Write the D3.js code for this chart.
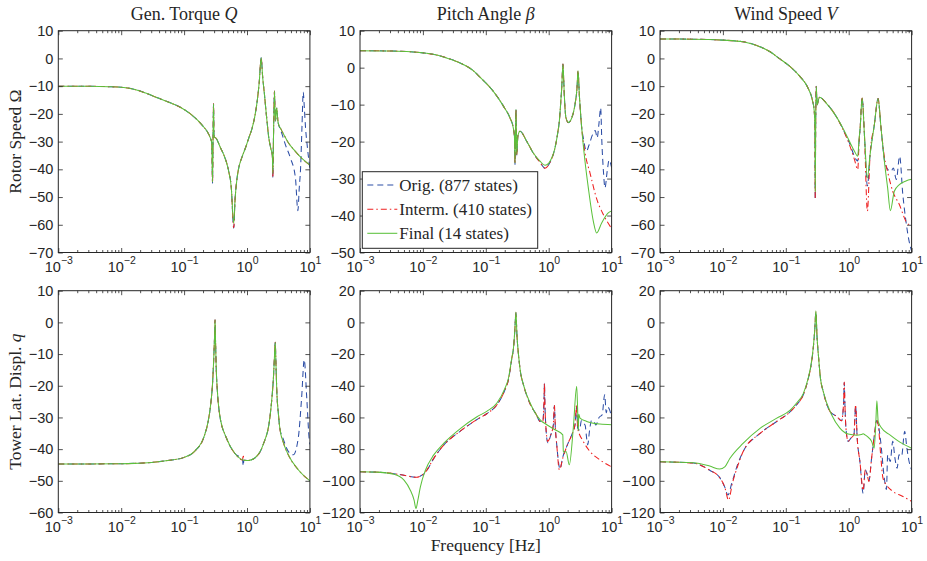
<!DOCTYPE html>
<html><head><meta charset="utf-8">
<script src="https://cdn.jsdelivr.net/npm/d3@7"></script>
<style>body{margin:0;background:#fff}svg{display:block}</style>
</head><body>
<svg id="c" width="927" height="561"></svg>
<script>
// ---------- DATA: each point is [log10(frequency in Hz), magnitude in dB] ----------
const p1Orig = [[-3,-10],[-2.5,-10.05],[-2.2,-10.2],[-2,-10.4],[-1.8,-11.1],[-1.6,-12.6],[-1.4,-14.4],[-1.2,-16.2],[-1.06,-17.6],[-0.9,-20.0],[-0.794,-22.1],[-0.7,-24.4],[-0.635,-26.3],[-0.59,-28.3],[-0.56,-30.5],[-0.548,-45],[-0.54,-29.5],[-0.532,-16.4],[-0.524,-28.2],[-0.487,-28.9],[-0.43,-31.8],[-0.37,-34.7],[-0.291,-40.7],[-0.25,-46.5],[-0.211,-61.2],[-0.19,-51],[-0.16,-43.5],[-0.131,-39.5],[-0.08,-35.6],[-0.025,-32.3],[0.03,-28.6],[0.082,-25.1],[0.13,-20.2],[0.162,-15.4],[0.195,-8.5],[0.225,0.2],[0.25,-7],[0.278,-13.1],[0.31,-20.8],[0.347,-28.7],[0.38,-32.6],[0.403,-35],[0.411,-43],[0.42,-30],[0.437,-11.8],[0.445,-19],[0.453,-22.6],[0.464,-19.5],[0.474,-17.9],[0.485,-21],[0.496,-23.3],[0.53,-25.5],[0.56,-27.5],[0.61,-31.1],[0.69,-35.9],[0.77,-43.1],[0.809,-54.9],[0.83,-47],[0.852,-39.5],[0.875,-24],[0.894,-12.1],[0.912,-18],[0.931,-25.1],[0.96,-32],[1.0,-40]];
const p1Interm = [[-3,-10],[-2.5,-10.05],[-2.2,-10.2],[-2,-10.4],[-1.8,-11.1],[-1.6,-12.6],[-1.4,-14.4],[-1.2,-16.2],[-1.06,-17.6],[-0.9,-20.0],[-0.794,-22.1],[-0.7,-24.4],[-0.635,-26.3],[-0.59,-28.3],[-0.56,-30.5],[-0.548,-44.8],[-0.54,-29.5],[-0.532,-16.4],[-0.524,-28.2],[-0.487,-28.9],[-0.43,-31.8],[-0.37,-34.7],[-0.291,-40.7],[-0.25,-46.5],[-0.211,-61],[-0.19,-51],[-0.16,-43.5],[-0.131,-39.5],[-0.08,-35.6],[-0.025,-32.3],[0.03,-28.6],[0.082,-25.1],[0.13,-20.2],[0.162,-15.4],[0.195,-8.5],[0.225,0.2],[0.25,-7],[0.278,-13.1],[0.31,-20.8],[0.347,-28.7],[0.38,-32.6],[0.403,-35],[0.411,-43],[0.42,-30],[0.437,-11.8],[0.445,-19],[0.453,-22.6],[0.464,-19.5],[0.474,-17.9],[0.485,-21],[0.496,-23.3],[0.54,-25.5],[0.586,-27.5],[0.66,-30.5],[0.745,-32.9],[0.86,-35.8],[1.0,-38.5]];
const p1Final = [[-3,-10],[-2.5,-10.05],[-2.2,-10.2],[-2,-10.4],[-1.8,-11.1],[-1.6,-12.6],[-1.4,-14.4],[-1.2,-16.2],[-1.06,-17.6],[-0.9,-20.0],[-0.794,-22.1],[-0.7,-24.4],[-0.635,-26.3],[-0.59,-28.3],[-0.56,-30.5],[-0.548,-44.6],[-0.54,-29.5],[-0.532,-16.4],[-0.524,-28.2],[-0.487,-28.9],[-0.43,-31.8],[-0.37,-34.7],[-0.291,-40.7],[-0.25,-46.5],[-0.211,-59.5],[-0.19,-51],[-0.16,-43.5],[-0.131,-39.5],[-0.08,-35.6],[-0.025,-32.3],[0.03,-28.6],[0.082,-25.1],[0.13,-20.2],[0.162,-15.4],[0.195,-8.5],[0.225,0.2],[0.25,-7],[0.278,-13.1],[0.31,-20.8],[0.347,-28.7],[0.38,-32.6],[0.403,-35],[0.411,-41.5],[0.42,-30],[0.437,-11.8],[0.445,-19],[0.453,-22.6],[0.464,-19.5],[0.474,-17.9],[0.485,-21],[0.496,-23.3],[0.54,-25.5],[0.586,-27.5],[0.66,-30.5],[0.745,-32.9],[0.86,-35.8],[1.0,-38.5]];

const p2Orig = [[-3,4.6],[-2.5,4.5],[-2.2,4.3],[-2,4.0],[-1.8,3.5],[-1.6,2.5],[-1.4,1.2],[-1.2,-0.8],[-1.09,-2.6],[-0.88,-6.4],[-0.72,-10.4],[-0.615,-13.6],[-0.563,-16.3],[-0.545,-18.5],[-0.536,-26.2],[-0.528,-18],[-0.52,-11.3],[-0.515,-17],[-0.509,-23.8],[-0.49,-18.5],[-0.456,-17.2],[-0.35,-19.9],[-0.245,-23.1],[-0.138,-25.6],[-0.059,-27.2],[0.021,-25.6],[0.1,-21.7],[0.145,-17.5],[0.169,-14.5],[0.195,-8.5],[0.207,-5.5],[0.227,1.0],[0.238,-3],[0.248,-7.3],[0.275,-13.6],[0.312,-14.9],[0.366,-13.6],[0.418,-10],[0.45,-5.5],[0.466,-0.8],[0.487,-7.3],[0.525,-16.3],[0.55,-19],[0.6,-22.6],[0.64,-21],[0.7,-18],[0.74,-17],[0.77,-19],[0.8,-15],[0.826,-10.9],[0.845,-20],[0.87,-28],[0.895,-32.5],[0.93,-28],[0.96,-25],[1.0,-27]];
const p2Interm = [[-3,4.6],[-2.5,4.5],[-2.2,4.3],[-2,4.0],[-1.8,3.5],[-1.6,2.5],[-1.4,1.2],[-1.2,-0.8],[-1.09,-2.6],[-0.88,-6.4],[-0.72,-10.4],[-0.615,-13.6],[-0.563,-16.3],[-0.545,-18.5],[-0.536,-26],[-0.528,-18],[-0.52,-11.3],[-0.515,-17],[-0.509,-23.6],[-0.49,-18.5],[-0.456,-17.2],[-0.35,-19.9],[-0.245,-23.1],[-0.138,-25.6],[-0.059,-27.2],[0.021,-25.6],[0.1,-21.7],[0.145,-17.5],[0.169,-14.5],[0.195,-8.5],[0.207,-5.5],[0.227,1.0],[0.238,-3],[0.248,-7.3],[0.275,-13.6],[0.312,-14.9],[0.366,-13.6],[0.418,-10],[0.45,-5.5],[0.466,-0.8],[0.487,-7.3],[0.525,-16.3],[0.577,-23],[0.657,-28.5],[0.763,-35.5],[0.868,-39.7],[1.0,-43.5]];
const p2Final = [[-3,4.6],[-2.5,4.5],[-2.2,4.3],[-2,4.0],[-1.8,3.5],[-1.6,2.5],[-1.4,1.2],[-1.2,-0.8],[-1.09,-2.6],[-0.88,-6.4],[-0.72,-10.4],[-0.615,-13.6],[-0.563,-16.3],[-0.545,-18.5],[-0.536,-25.8],[-0.528,-18],[-0.52,-11.3],[-0.515,-17],[-0.509,-23.5],[-0.49,-18.5],[-0.456,-17.2],[-0.35,-19.9],[-0.245,-23.1],[-0.138,-25.3],[-0.059,-26.4],[0.021,-25.3],[0.1,-21.7],[0.145,-17.5],[0.169,-14.5],[0.195,-8.5],[0.207,-5.5],[0.227,1.0],[0.238,-3],[0.248,-7.3],[0.275,-13.6],[0.312,-14.8],[0.366,-13.6],[0.418,-10],[0.45,-5.5],[0.466,-0.8],[0.487,-7.3],[0.525,-16.3],[0.577,-25.3],[0.63,-32.5],[0.709,-41.5],[0.763,-44.7],[0.842,-42.0],[0.947,-39.3],[1.0,-38.8]];

const p3Orig = [[-3,7.0],[-2.5,6.95],[-2,6.6],[-1.68,6.0],[-1.41,4.2],[-1.25,2.4],[-1.1,-0.1],[-0.939,-2.8],[-0.78,-6.4],[-0.649,-10.6],[-0.579,-14.9],[-0.548,-19.0],[-0.538,-24],[-0.532,-51],[-0.525,-24],[-0.516,-10.0],[-0.508,-14],[-0.5,-16.7],[-0.482,-15],[-0.464,-14.0],[-0.358,-16.1],[-0.199,-20.9],[-0.094,-25.3],[-0.04,-28.0],[0.012,-30.5],[0.118,-36.5],[0.144,-37],[0.165,-30],[0.182,-25.1],[0.214,-14.3],[0.25,-27.5],[0.297,-46],[0.34,-34.7],[0.408,-23.9],[0.467,-14.5],[0.514,-25.1],[0.567,-36.5],[0.62,-40],[0.673,-40.7],[0.71,-39.5],[0.757,-43.7],[0.81,-35.3],[0.86,-49],[0.91,-58.7],[0.96,-65.9],[1.0,-69.5]];
const p3Interm = [[-3,7.0],[-2.5,6.95],[-2,6.6],[-1.68,6.0],[-1.41,4.2],[-1.25,2.4],[-1.1,-0.1],[-0.939,-2.8],[-0.78,-6.4],[-0.649,-10.6],[-0.579,-14.9],[-0.548,-19.0],[-0.538,-24],[-0.532,-50.5],[-0.525,-24],[-0.516,-10.0],[-0.508,-14],[-0.5,-16.7],[-0.482,-15],[-0.464,-14.0],[-0.358,-16.1],[-0.199,-20.9],[-0.094,-25.5],[0.012,-31.1],[0.092,-36.5],[0.144,-40.1],[0.165,-30],[0.182,-25],[0.214,-14.3],[0.25,-27.5],[0.297,-55.1],[0.34,-34.7],[0.408,-23.9],[0.467,-14.5],[0.514,-25.1],[0.567,-35.5],[0.62,-41],[0.7,-47.9],[0.805,-52.7],[0.91,-58.7],[1.0,-60.5]];
const p3Final = [[-3,7.0],[-2.5,6.95],[-2,6.6],[-1.68,6.0],[-1.41,4.2],[-1.25,2.4],[-1.1,-0.1],[-0.939,-2.8],[-0.78,-6.4],[-0.649,-10.6],[-0.579,-14.9],[-0.548,-19.0],[-0.538,-24],[-0.532,-48],[-0.525,-24],[-0.516,-10.0],[-0.508,-14],[-0.5,-16.7],[-0.482,-15],[-0.464,-14.0],[-0.358,-16.1],[-0.199,-20.9],[-0.094,-25.1],[0.012,-29.9],[0.092,-33.5],[0.144,-35.3],[0.165,-29],[0.182,-25.1],[0.214,-14.3],[0.25,-27.5],[0.297,-43.1],[0.34,-34.7],[0.408,-23.9],[0.467,-14.5],[0.514,-25.1],[0.567,-37.1],[0.619,-46.7],[0.662,-54.9],[0.725,-47.9],[0.805,-45.5],[0.91,-44.2],[1.0,-43.6]];

const p4Orig = [[-3,-44.7],[-2,-44.6],[-1.79,-44.5],[-1.52,-44.2],[-1.26,-43.6],[-1.0,-42.6],[-0.833,-40.7],[-0.673,-35.5],[-0.62,-31.5],[-0.578,-26.0],[-0.55,-20],[-0.53,-12],[-0.515,-4],[-0.508,0.8],[-0.5,-6],[-0.49,-14],[-0.47,-22],[-0.434,-29.2],[-0.327,-36.5],[-0.195,-41.3],[-0.07,-43.4],[-0.06,-45.3],[-0.05,-43.5],[0.018,-43.6],[0.124,-42.8],[0.257,-38.6],[0.363,-30.2],[0.4,-23],[0.417,-18.6],[0.435,-11.5],[0.449,-6.3],[0.46,-13],[0.474,-21.8],[0.5,-29],[0.522,-33.4],[0.58,-37],[0.656,-40.7],[0.735,-41.8],[0.815,-36.5],[0.868,-23.9],[0.91,-11.8],[0.95,-23.9],[0.99,-37.1],[1.0,-38.5]];
const p4Interm = [[-3,-44.7],[-2,-44.6],[-1.79,-44.5],[-1.52,-44.2],[-1.26,-43.6],[-1.0,-42.6],[-0.833,-40.7],[-0.673,-35.5],[-0.62,-31.5],[-0.578,-26.0],[-0.55,-20],[-0.53,-12],[-0.515,-4],[-0.508,0.8],[-0.5,-6],[-0.49,-14],[-0.47,-22],[-0.434,-29.2],[-0.327,-36.5],[-0.195,-41.3],[-0.07,-43.4],[-0.06,-41.8],[-0.05,-43.5],[0.018,-43.6],[0.124,-42.8],[0.257,-38.6],[0.363,-30.2],[0.4,-23],[0.417,-18.6],[0.435,-11.5],[0.449,-6.3],[0.46,-13],[0.474,-21.8],[0.5,-29],[0.522,-33.4],[0.58,-38],[0.656,-41.8],[0.815,-46.5],[1.0,-50.0]];
const p4Final = [[-3,-44.7],[-2,-44.6],[-1.79,-44.5],[-1.52,-44.2],[-1.26,-43.6],[-1.0,-42.6],[-0.833,-40.7],[-0.673,-35.5],[-0.62,-31.5],[-0.578,-26.0],[-0.55,-20],[-0.53,-12],[-0.515,-4],[-0.508,0.8],[-0.5,-6],[-0.49,-14],[-0.47,-22],[-0.434,-29.2],[-0.327,-36.5],[-0.195,-41.3],[-0.061,-43.4],[0.018,-43.6],[0.124,-42.8],[0.257,-38.6],[0.363,-30.2],[0.4,-23],[0.417,-18.6],[0.435,-11.5],[0.449,-6.3],[0.46,-13],[0.474,-21.8],[0.5,-29],[0.522,-33.4],[0.58,-38],[0.656,-41.8],[0.815,-46.5],[1.0,-50.0]];

const p5Orig = [[-3,-94.3],[-2.7,-94.6],[-2.46,-95.5],[-2.3,-96.5],[-2.1,-97.8],[-2.04,-97],[-1.96,-94.8],[-1.83,-86],[-1.67,-77.5],[-1.4,-68.5],[-1.14,-61.3],[-0.98,-57.5],[-0.823,-52],[-0.7,-43],[-0.639,-36],[-0.585,-22.5],[-0.56,-16.5],[-0.54,-6],[-0.521,6],[-0.505,-8],[-0.48,-20.4],[-0.45,-31],[-0.401,-39.4],[-0.295,-51.5],[-0.2,-58],[-0.136,-62.5],[-0.094,-62.4],[-0.075,-50],[-0.068,-38.5],[-0.06,-52],[-0.047,-64.6],[-0.015,-76],[0.033,-71.0],[0.074,-64.6],[0.09,-52.5],[0.106,-66.7],[0.128,-77.3],[0.18,-92.5],[0.224,-85],[0.297,-77.3],[0.366,-71.0],[0.418,-64.6],[0.445,-53.5],[0.46,-66.7],[0.49,-68],[0.52,-62],[0.55,-63.5],[0.58,-65],[0.6,-72],[0.62,-77.3],[0.65,-68],[0.68,-62],[0.72,-62.5],[0.75,-64.8],[0.8,-60],[0.85,-58.3],[0.89,-45.7],[0.915,-57],[0.94,-53.5],[0.97,-55.4],[1.0,-60]];
const p5Interm = [[-3,-94.3],[-2.7,-94.6],[-2.46,-95.5],[-2.3,-96.5],[-2.1,-97.8],[-2.04,-97],[-1.96,-94.5],[-1.83,-86],[-1.67,-77.5],[-1.4,-68.5],[-1.14,-61.3],[-0.98,-57.5],[-0.823,-52],[-0.7,-43],[-0.639,-36],[-0.585,-22.5],[-0.56,-16.5],[-0.54,-6],[-0.521,6],[-0.505,-8],[-0.48,-20.4],[-0.45,-31],[-0.401,-39.4],[-0.295,-51.5],[-0.2,-58],[-0.136,-62.5],[-0.094,-62.4],[-0.075,-50],[-0.068,-38.3],[-0.06,-52],[-0.047,-64.6],[-0.015,-75.1],[0.033,-71.0],[0.074,-64.6],[0.09,-52.0],[0.106,-66.7],[0.128,-77.3],[0.17,-93.1],[0.224,-85.7],[0.297,-77.3],[0.366,-71.0],[0.418,-64.6],[0.445,-52],[0.46,-66.7],[0.55,-75.1],[0.656,-81.5],[0.815,-86.8],[1.0,-91.2]];
const p5Final = [[-3,-94.3],[-2.73,-94.5],[-2.46,-95.8],[-2.3,-99.6],[-2.2,-105.9],[-2.14,-112.2],[-2.11,-117.5],[-2.08,-112.2],[-2.04,-103.8],[-1.96,-93.3],[-1.83,-83.8],[-1.67,-76.4],[-1.4,-66.9],[-1.14,-59.6],[-0.98,-56],[-0.823,-50.9],[-0.7,-42],[-0.639,-35.1],[-0.585,-22],[-0.56,-16.2],[-0.54,-6],[-0.521,6.5],[-0.505,-8],[-0.48,-20.4],[-0.45,-31],[-0.401,-39.4],[-0.295,-50.9],[-0.136,-61.5],[-0.03,-64.6],[0.101,-67.8],[0.224,-71.0],[0.233,-81.5],[0.25,-82],[0.276,-81.5],[0.328,-89.9],[0.391,-66.7],[0.445,-40.4],[0.46,-55],[0.471,-68.3],[0.478,-58],[0.498,-60.4],[0.604,-62.5],[0.815,-64.2],[1.0,-64.6]];

const p6Orig = [[-3,-88],[-2.47,-88.8],[-2.21,-93.3],[-2.05,-98],[-1.97,-104],[-1.92,-109],[-1.86,-101.7],[-1.77,-90.1],[-1.68,-81.7],[-1.41,-70.1],[-1.15,-62.7],[-0.93,-56.4],[-0.828,-52],[-0.72,-45.5],[-0.643,-35.5],[-0.6,-27.5],[-0.564,-16.5],[-0.54,-5],[-0.521,6.5],[-0.505,-8],[-0.478,-22.5],[-0.45,-35],[-0.405,-43.6],[-0.298,-56.2],[-0.192,-59.3],[-0.113,-62.1],[-0.08,-50],[-0.071,-38],[-0.06,-52],[-0.044,-66.7],[-0.008,-75.1],[0.035,-73],[0.083,-71],[0.11,-53],[0.135,-73],[0.178,-87.8],[0.23,-108],[0.263,-93.1],[0.294,-96],[0.321,-100],[0.364,-85.7],[0.416,-68.8],[0.443,-62],[0.47,-64.6],[0.508,-75],[0.56,-96.2],[0.6,-105.5],[0.62,-83.6],[0.66,-87.8],[0.7,-75.1],[0.735,-85.7],[0.77,-92],[0.8,-83.6],[0.84,-84.6],[0.89,-68.8],[0.925,-79.4],[0.96,-87.8],[1.0,-93.1]];
const p6Interm = [[-3,-88],[-2.47,-88.8],[-2.21,-93.3],[-2.05,-98],[-1.97,-104],[-1.91,-112.2],[-1.85,-101.7],[-1.76,-90.1],[-1.68,-81.7],[-1.41,-70.1],[-1.15,-62.7],[-0.93,-56.4],[-0.828,-52],[-0.72,-45.5],[-0.643,-35.5],[-0.6,-27.5],[-0.564,-16.5],[-0.54,-5],[-0.521,6.5],[-0.505,-8],[-0.478,-22.5],[-0.45,-35],[-0.405,-43.6],[-0.298,-56.2],[-0.192,-59.3],[-0.113,-62.1],[-0.08,-50],[-0.071,-37.7],[-0.06,-52],[-0.044,-66.7],[-0.008,-75.1],[0.035,-73],[0.083,-71],[0.11,-52.0],[0.135,-73],[0.178,-87.8],[0.23,-106],[0.263,-93.1],[0.294,-96],[0.321,-100.4],[0.364,-85.7],[0.416,-68.8],[0.443,-61.5],[0.47,-64.6],[0.508,-83.6],[0.545,-98.3],[0.598,-102.5],[0.703,-106.7],[0.862,-109.9],[1.0,-113.0]];
const p6Final = [[-3,-88.0],[-2.47,-88.6],[-2.21,-90.7],[-2.05,-92.6],[-1.97,-91.2],[-1.89,-85.9],[-1.68,-76.4],[-1.41,-66.9],[-1.15,-60.6],[-0.93,-55.4],[-0.828,-50.9],[-0.72,-44.8],[-0.643,-35.1],[-0.6,-27],[-0.564,-16.2],[-0.54,-5],[-0.521,7.4],[-0.505,-8],[-0.478,-22.5],[-0.45,-35],[-0.405,-43.6],[-0.272,-58.3],[-0.14,-66.7],[-0.008,-70.5],[0.125,-71.2],[0.2,-70.8],[0.23,-70.3],[0.26,-71],[0.294,-72.0],[0.364,-75.1],[0.405,-79.4],[0.432,-62.5],[0.448,-49.5],[0.469,-62.5],[0.523,-66.7],[0.655,-71.0],[0.814,-75.6],[1.0,-79.4]];

// ---------- LABELS & TICKS ----------
const inputNames = ["Gen. Torque ", "Pitch Angle ", "Wind Speed "];
const inputSymbols = ["Q", "β", "V"];
const outputNames = ["Rotor Speed Ω", "Tower Lat. Displ. "];
const outputSymbols = ["", "q"];
const seriesNames = ["Orig. (877 states)", "Interm. (410 states)", "Final (14 states)"];
const xTickValues = [1e-3, 1e-2, 1e-1, 1e0, 1e1];
const xLabel = "Frequency [Hz]";
const yDomains = [[-70,10],[-50,10],[-70,10],[-60,10],[-120,20],[-120,20]];
const yTickSteps = [10,10,10,10,20,20];
const panelSeries = [
  [p1Orig,p1Interm,p1Final],[p2Orig,p2Interm,p2Final],[p3Orig,p3Interm,p3Final],
  [p4Orig,p4Interm,p4Final],[p5Orig,p5Interm,p5Final],[p6Orig,p6Interm,p6Final]
];

// ---------- STYLE / LAYOUT ----------
const colX = [58.3, 360, 660], colW = 251.6;
const rowY = [30.7, 290.7], rowH = 221.8;
const colors = ["#2d4ea6", "#ee2020", "#5cc13c"];
const dashes = ["6,4", "6,3,1.5,3", null];
const ink = "#262626";
const sansFont = "'Liberation Sans', Arial, Helvetica, sans-serif";
const serifFont = "'Liberation Serif', 'Times New Roman', serif";

const svg = d3.select("#c");
svg.append("rect").attr("width",927).attr("height",561).attr("fill","#fff");

const supMinus = n => (n < 0 ? "\u2212" + Math.abs(n) : String(n));

panelSeries.forEach((series, i) => {
  const r = Math.floor(i/3), c = i % 3;
  const x0 = colX[c], y0 = rowY[r];
  const x = d3.scaleLog().domain([1e-3, 1e1]).range([x0, x0 + colW]);
  const y = d3.scaleLinear().domain(yDomains[i]).range([y0 + rowH, y0]);
  const yTicks = d3.range(yDomains[i][0], yDomains[i][1] + 0.001, yTickSteps[i]);
  const g = svg.append("g");

  const clipId = "clip" + i;
  svg.append("clipPath").attr("id", clipId).append("rect")
    .attr("x", x0).attr("y", y0).attr("width", colW).attr("height", rowH);

  // lines
  const line = d3.line().x(d => x(Math.pow(10, d[0]))).y(d => y(d[1])).curve(d3.curveMonotoneX);
  const lg = g.append("g").attr("clip-path", `url(#${clipId})`);
  series.forEach((s, k) => {
    lg.append("path").attr("d", line(s)).attr("fill","none")
      .attr("stroke", colors[k]).attr("stroke-width", 1.05)
      .attr("stroke-dasharray", dashes[k]);
  });

  // minor ticks
  const minor = x.ticks().filter(v => !xTickValues.some(t => Math.abs(t - v) / t < 1e-9));
  const styleAxis = sel => { sel.select(".domain").remove(); sel.selectAll("line").attr("stroke", ink).attr("stroke-width", 0.8); };
  g.append("g").attr("transform", `translate(0,${y0 + rowH})`)
    .call(d3.axisBottom(x).tickValues(minor).tickSizeInner(-2.5).tickSizeOuter(0).tickFormat(""))
    .call(styleAxis);
  g.append("g").attr("transform", `translate(0,${y0})`)
    .call(d3.axisTop(x).tickValues(minor).tickSizeInner(-2.5).tickSizeOuter(0).tickFormat(""))
    .call(styleAxis);

  // major x ticks with labels
  const xb = g.append("g").attr("transform", `translate(0,${y0 + rowH})`)
    .call(d3.axisBottom(x).tickValues(xTickValues).tickSizeInner(-4.5).tickSizeOuter(0).tickPadding(9.5))
    .call(styleAxis);
  xb.selectAll(".tick text").each(function(d) {
    const t = d3.select(this).text(null).attr("fill", ink)
      .attr("font-family", sansFont).attr("font-size", 14.5);
    t.append("tspan").text("10");
    t.append("tspan").attr("dy", -8).attr("font-size", 10.5).text(supMinus(Math.round(Math.log10(d))));
  });
  g.append("g").attr("transform", `translate(0,${y0})`)
    .call(d3.axisTop(x).tickValues(xTickValues).tickSizeInner(-4.5).tickSizeOuter(0).tickFormat(""))
    .call(styleAxis);

  // y ticks
  const yl = g.append("g").attr("transform", `translate(${x0},0)`)
    .call(d3.axisLeft(y).tickValues(yTicks).tickSizeInner(-4.5).tickSizeOuter(0).tickPadding(5).tickFormat(d3.format("d")))
    .call(styleAxis);
  yl.selectAll(".tick text").attr("fill", ink).attr("font-family", sansFont).attr("font-size", 14.5);
  g.append("g").attr("transform", `translate(${x0 + colW},0)`)
    .call(d3.axisRight(y).tickValues(yTicks).tickSizeInner(-4.5).tickSizeOuter(0).tickFormat(""))
    .call(styleAxis);

  // box
  g.append("rect").attr("x", x0).attr("y", y0).attr("width", colW).attr("height", rowH)
    .attr("fill","none").attr("stroke", ink).attr("stroke-width", 1);

  // titles on top row
  if (r === 0) {
    const t = svg.append("text").attr("x", x0 + colW/2).attr("y", 20)
      .attr("text-anchor","middle").attr("font-family", serifFont).attr("font-size", 18).attr("fill", ink);
    t.append("tspan").text(inputNames[c]);
    t.append("tspan").attr("font-style","italic").text(inputSymbols[c]);
  }
  // y labels on first column
  if (c === 0) {
    const t = svg.append("text").attr("transform", `translate(21,${y0 + rowH/2}) rotate(-90)`)
      .attr("text-anchor","middle").attr("font-family", serifFont).attr("font-size", 17.5).attr("fill", ink);
    t.append("tspan").text(outputNames[r]);
    if (outputSymbols[r]) t.append("tspan").attr("font-style","italic").text(outputSymbols[r]);
  }
  // legend in panel 2
  if (i === 1) {
    const lx = 362.3, ly = 171.7, lw = 175.4, lh = 76.6;
    const leg = svg.append("g");
    leg.append("rect").attr("x", lx).attr("y", ly).attr("width", lw).attr("height", lh)
      .attr("fill","#fff").attr("stroke", ink).attr("stroke-width", 1);
    const rows = [185, 209.3, 233.3];
    seriesNames.forEach((name, k) => {
      leg.append("line").attr("x1", lx + 5).attr("x2", lx + 35).attr("y1", rows[k]).attr("y2", rows[k])
        .attr("stroke", colors[k]).attr("stroke-width", 1.05).attr("stroke-dasharray", dashes[k]);
      leg.append("text").attr("x", lx + 37).attr("y", rows[k] + 5.5)
        .attr("font-family", serifFont).attr("font-size", 17).attr("fill", ink).text(name);
    });
  }
});

svg.append("text").attr("x", (colX[1] + colX[1] + colW)/2).attr("y", 551)
  .attr("text-anchor","middle").attr("font-family", serifFont).attr("font-size", 17.5).attr("fill", ink)
  .text(xLabel);
</script>
</body></html>
